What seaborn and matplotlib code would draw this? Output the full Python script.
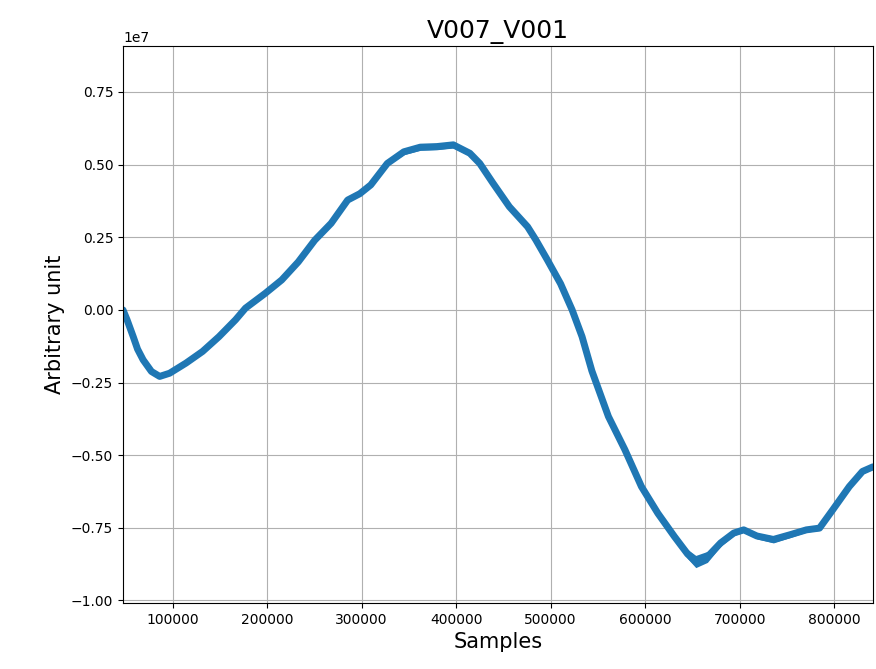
import matplotlib
matplotlib.use("Agg")
import matplotlib.pyplot as plt
import seaborn as sns
import pandas as pd

# Sample index, mean signal level and half-width of the noise band (arbitrary unit)
samples = [47600, 52000, 58400, 63000, 68900, 77700, 86400, 96900, 114300,
           131800, 149200, 166700, 177200, 198100, 215500, 233000, 250500,
           267800, 285300, 298200, 309700, 327200, 344700, 362100, 379600,
           397000, 414500, 425000, 439000, 456300, 475600, 484300, 496500,
           510500, 522700, 533200, 543600, 561100, 578500, 596000, 613400,
           630900, 644800, 653500, 665800, 679800, 693700, 704200, 718100,
           735600, 753000, 770500, 784400, 798400, 815900, 829800, 841000]
signal = [0.0, -0.035e7, -0.092e7, -0.135e7, -0.172e7, -0.212e7, -0.229e7,
          -0.218e7, -0.183e7, -0.143e7, -0.092e7, -0.034e7, 0.006e7,
          0.057e7, 0.103e7, 0.165e7, 0.240e7, 0.298e7, 0.378e7, 0.400e7,
          0.430e7, 0.504e7, 0.544e7, 0.560e7, 0.562e7, 0.568e7, 0.539e7,
          0.504e7, 0.436e7, 0.355e7, 0.286e7, 0.241e7, 0.172e7, 0.090e7,
          0.000e7, -0.092e7, -0.210e7, -0.367e7, -0.481e7, -0.608e7,
          -0.700e7, -0.780e7, -0.840e7, -0.866e7, -0.850e7, -0.802e7,
          -0.768e7, -0.757e7, -0.778e7, -0.790e7, -0.774e7, -0.757e7,
          -0.751e7, -0.688e7, -0.608e7, -0.556e7, -0.540e7]
spread = [0.2e5, 0.2e5, 0.2e5, 0.2e5, 0.2e5, 0.3e5, 0.3e5, 0.3e5,
          0.2e5, 0.2e5, 0.2e5, 0.2e5, 0.2e5, 0.2e5, 0.2e5, 0.3e5,
          0.3e5, 0.3e5, 0.4e5, 0.4e5, 0.4e5, 0.7e5, 1.0e5, 1.1e5,
          1.1e5, 1.1e5, 0.9e5, 0.6e5, 0.4e5, 0.4e5, 0.4e5, 0.3e5,
          0.3e5, 0.3e5, 0.3e5, 0.3e5, 0.3e5, 0.4e5, 0.4e5, 0.5e5,
          0.6e5, 0.9e5, 1.6e5, 2.1e5, 1.9e5, 1.2e5, 0.9e5, 0.8e5,
          1.0e5, 1.2e5, 1.0e5, 0.8e5, 0.8e5, 0.8e5, 0.9e5, 0.9e5,
          0.8e5]

df = pd.DataFrame({"Samples": samples, "Arbitrary unit": signal,
                   "spread": spread})
df["low"] = df["Arbitrary unit"] - df["spread"]
df["high"] = df["Arbitrary unit"] + df["spread"]

blue = "#1f77b4"
fig, ax = plt.subplots(figsize=(8.76, 6.69), dpi=100)
fig.subplots_adjust(left=0.1404, right=0.9966, top=0.9312, bottom=0.0987)

ax.fill_between(df["Samples"], df["low"], df["high"], color=blue,
                linewidth=0)
sns.lineplot(data=df, x="Samples", y="Arbitrary unit", ax=ax,
             color=blue, linewidth=5, solid_capstyle="round",
             solid_joinstyle="round")

ax.set_xlim(47600, 841000)
ax.set_ylim(-1.0086e7, 0.908e7)
ax.set_yticks([-1.0e7, -0.75e7, -0.5e7, -0.25e7, 0.0, 0.25e7, 0.5e7, 0.75e7])
ax.set_xticks([100000, 200000, 300000, 400000, 500000, 600000, 700000, 800000])
ax.grid(True)
ax.set_axisbelow(True)
ax.set_title("V007_V001", fontsize=18)
ax.set_xlabel("Samples", fontsize=15)
ax.set_ylabel("Arbitrary unit", fontsize=15)

fig.savefig("out.png", dpi=100)
